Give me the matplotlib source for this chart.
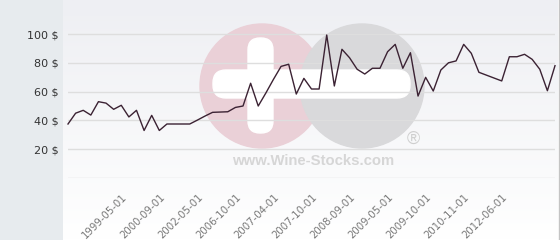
import matplotlib
matplotlib.use("Agg")
import matplotlib.pyplot as plt
import numpy as np
from matplotlib.patches import Rectangle, Circle, FancyBboxPatch

#Data (price in $ per point)
prices = [37.5, 45, 47, 43.7, 53, 52, 47.7, 50.5, 42.4, 47,
          33, 43.5, 33, 37.5, 37.5, 37.5, 37.5, 40.2, 43, 45.6,
          45.8, 46, 49, 50, 65.8, 50, 59, 68.5, 77.5, 79,
          58.3, 69.2, 61.8, 61.8, 99.3, 63.9, 89.4, 83.5, 75.5, 72.2,
          76.2, 76.2, 87.7, 92.8, 76.2, 87, 56.9, 69.9, 60.4, 75,
          80, 81.3, 92.8, 86.6, 73.4, 71.4, 69.4, 67.4, 84.2, 84.2,
          85.9, 82.4, 75.5, 60.6, 78]
date_labels = ['1999-05-01', '2000-09-01', '2002-05-01', '2006-10-01',
               '2007-04-01', '2007-10-01', '2008-09-01', '2009-05-01',
               '2009-10-01', '2010-11-01', '2012-06-01']
label_idx = [8, 13, 18, 23, 28, 33, 38, 43, 48, 53, 58]
y_ticks = [0, 20, 40, 60, 80, 100]
y_labels = ['', '20 $', '40 $', '60 $', '80 $', '100 $']

fig = plt.figure(figsize=(5.6, 2.4), dpi=100)

#Background layer in pixel coords
bg = fig.add_axes([0, 0, 1, 1])
bg.set_xlim(0, 560)
bg.set_ylim(240, 0)
bg.axis('off')
bg.add_patch(Rectangle((0, 0), 63, 240, color='#e7ebee', zorder=0))
grad = np.linspace(0, 1, 100).reshape(-1, 1)
bg.imshow(grad, cmap=matplotlib.colors.LinearSegmentedColormap.from_list(
    'g', ['#eeeff3', '#ffffff']), extent=(63, 558, 240, 0), aspect='auto', zorder=0)
bg.plot([558.5, 558.5], [0, 240], color='#c4c4c4', lw=1, zorder=1)

#Watermark
bg.add_patch(Circle((262, 86), 62, color='#ead0d7', zorder=2))
bg.add_patch(Circle((362, 86), 62, color='#d9d9db', zorder=3))
bg.add_patch(FancyBboxPatch((213, 70), 197, 28, boxstyle='round,pad=0,rounding_size=13',
                            color='white', zorder=4))
bg.add_patch(FancyBboxPatch((248, 38), 25, 95, boxstyle='round,pad=0,rounding_size=12',
                            color='white', zorder=4))
bg.text(413, 139, '®', fontsize=13, color='#cfcfcf', ha='center', va='center',
        family='Liberation Sans', zorder=5)
bg.text(313, 161, 'www.Wine-Stocks.com', fontsize=10.7, fontweight='bold', color='#d6d6d6',
        ha='center', va='center', family='Liberation Sans', zorder=5)

#Price chart
ax = fig.add_axes([68/560, 62/240, 487/560, 158/240])
ax.patch.set_alpha(0)
ax.set_xlim(0, len(prices) - 1)
ax.set_ylim(0, 158/1.44)
ax.plot(range(len(prices)), prices, color='#3b2233', lw=1, clip_on=False, zorder=3)

ax.set_yticks(y_ticks)
ax.set_yticklabels(y_labels, fontsize=8, color='#333333')
ax.set_xticks(label_idx)
ax.set_xticklabels(date_labels, rotation=45, ha='right', va='top', fontsize=7.3, color='#777777')
ax.tick_params(axis='both', length=0)
ax.tick_params(axis='y', pad=6.5)
ax.tick_params(axis='x', pad=10)
ax.grid(axis='y', color='#dedede', lw=1)
ax.set_axisbelow(True)
for s in ax.spines.values():
    s.set_visible(False)

plt.savefig('out.png', dpi=100)
